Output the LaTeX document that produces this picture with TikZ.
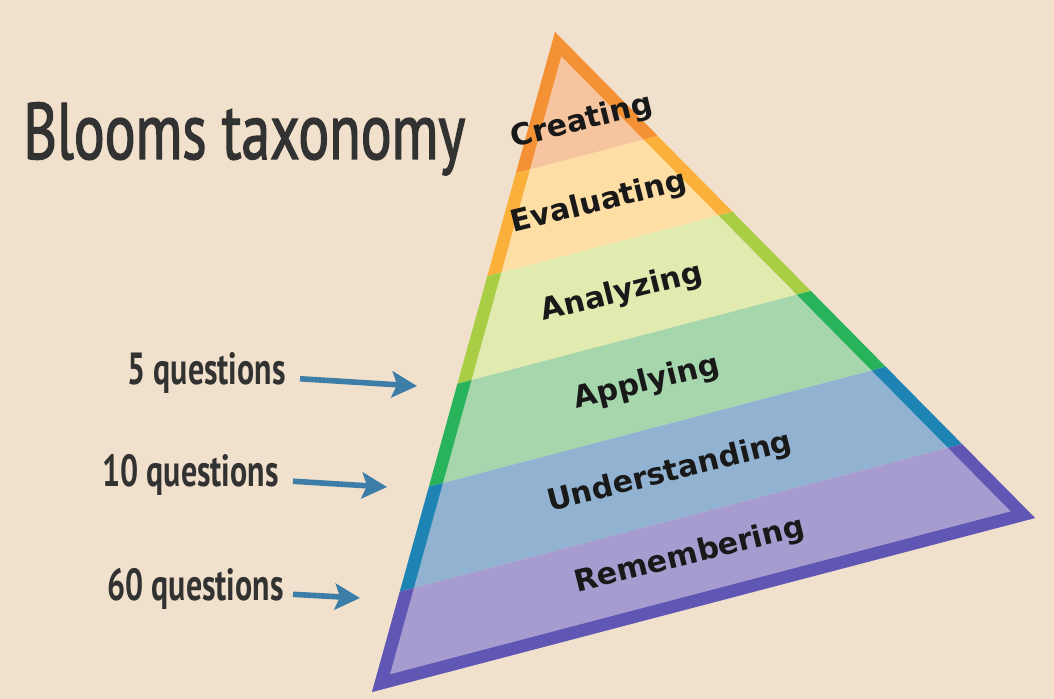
\documentclass[tikz,border=0pt]{standalone}
\usepackage{xcolor}
\usepackage{fontspec}
\setsansfont{DejaVu Sans}
\newfontfamily\handfont[FakeStretch=0.71]{PT Sans}
\newfontfamily\titlefont[FakeStretch=0.72,FakeBold=1.6]{PT Sans}
\usepackage{tikz}
\usetikzlibrary{calc,arrows.meta}

\definecolor{paper}{RGB}{240,224,204}
\definecolor{ink}{RGB}{50,50,50}
\definecolor{arrowblue}{RGB}{60,126,168}
% band fills
\definecolor{creatfill}{RGB}{246,196,158}
\definecolor{evalfill}{RGB}{253,222,164}
\definecolor{analfill}{RGB}{225,234,175}
\definecolor{applyfill}{RGB}{166,214,172}
\definecolor{undfill}{RGB}{146,178,210}
\definecolor{rememfill}{RGB}{166,156,208}
% band borders
\definecolor{createdge}{RGB}{244,145,52}
\definecolor{evaledge}{RGB}{251,176,59}
\definecolor{analedge}{RGB}{170,205,70}
\definecolor{applyedge}{RGB}{40,178,90}
\definecolor{undedge}{RGB}{30,132,180}
\definecolor{rememedge}{RGB}{96,86,180}

\begin{document}
\begin{tikzpicture}[x=0.5pt,y=-0.5pt,>=Stealth,
  level/.style={font=\sffamily\bfseries\fontsize{15}{15}\selectfont,text=black!90,rotate=14,inner sep=0pt},
  qlabel/.style={font=\handfont\bfseries\fontsize{22.5}{22.5}\selectfont,text=ink,inner sep=0pt,anchor=east},
  qarrow/.style={-{Stealth[length=12.5pt,width=13pt,inset=2.5pt]},line width=2.8pt,draw=arrowblue,shorten <=7pt}]
  % page
  \fill[paper] (0,0) rectangle (1054,699);
  \useasboundingbox (0,0) rectangle (1054,699);

  % pyramid corners and the level lines
  \coordinate (apex) at (555,32);
  \coordinate (baseL) at (372,692);
  \coordinate (baseR) at (1035,518);
  \foreach \i/\t in {0/0,1/0.214,2/0.37,3/0.533,4/0.689,5/0.848,6/1}{
    \coordinate (L\i) at ($(apex)!\t!(baseL)$);
    \coordinate (R\i) at ($(apex)!\t!(baseR)$);
  }

  % bands, each with its own piece of the border
  \foreach \i/\j/\fc/\ec in {1/0/creatfill/createdge,2/1/evalfill/evaledge,
      3/2/analfill/analedge,4/3/applyfill/applyedge,5/4/undfill/undedge,6/5/rememfill/rememedge}{
    \fill[fill=\fc] (L\j) -- (R\j) -- (R\i) -- (L\i) -- cycle;
    \begin{scope}
      \clip (L\j) -- (R\j) -- (R\i) -- (L\i) -- cycle;
      \draw[draw=\ec,line width=12.5pt,line join=miter] (apex) -- (baseR) -- (baseL) -- cycle;
    \end{scope}
  }

  % level names
  \node[level] (creating) at (582,122) {Creating};
  \node[level] (evaluating) at (599,203) {Evaluating};
  \node[level] (analyzing) at (622,293) {Analyzing};
  \node[level] (applying) at (647,383) {Applying};
  \node[level] (understanding) at (670,473) {Understanding};
  \node[level] (remembering) at (690,556) {Remembering};

  % title
  \node[font=\titlefont\fontsize{40}{40}\selectfont,text=ink,anchor=base west,inner sep=0pt] (title) at (23,159) {Blooms taxonomy};

  % question counts
  \node[qlabel] (q5) at (286,373) {5 questions};
  \node[qlabel] (q10) at (279,475) {10 questions};
  \node[qlabel] (q60) at (284,589) {60 questions};
  \coordinate (t5) at (417,386);
  \coordinate (t10) at (387,487);
  \coordinate (t60) at (360,598);

  \draw[qarrow] (q5) -- (t5);
  \draw[qarrow] (q10) -- (t10);
  \draw[qarrow,shorten <=4.5pt] (q60) -- (t60);
\end{tikzpicture}
\end{document}
